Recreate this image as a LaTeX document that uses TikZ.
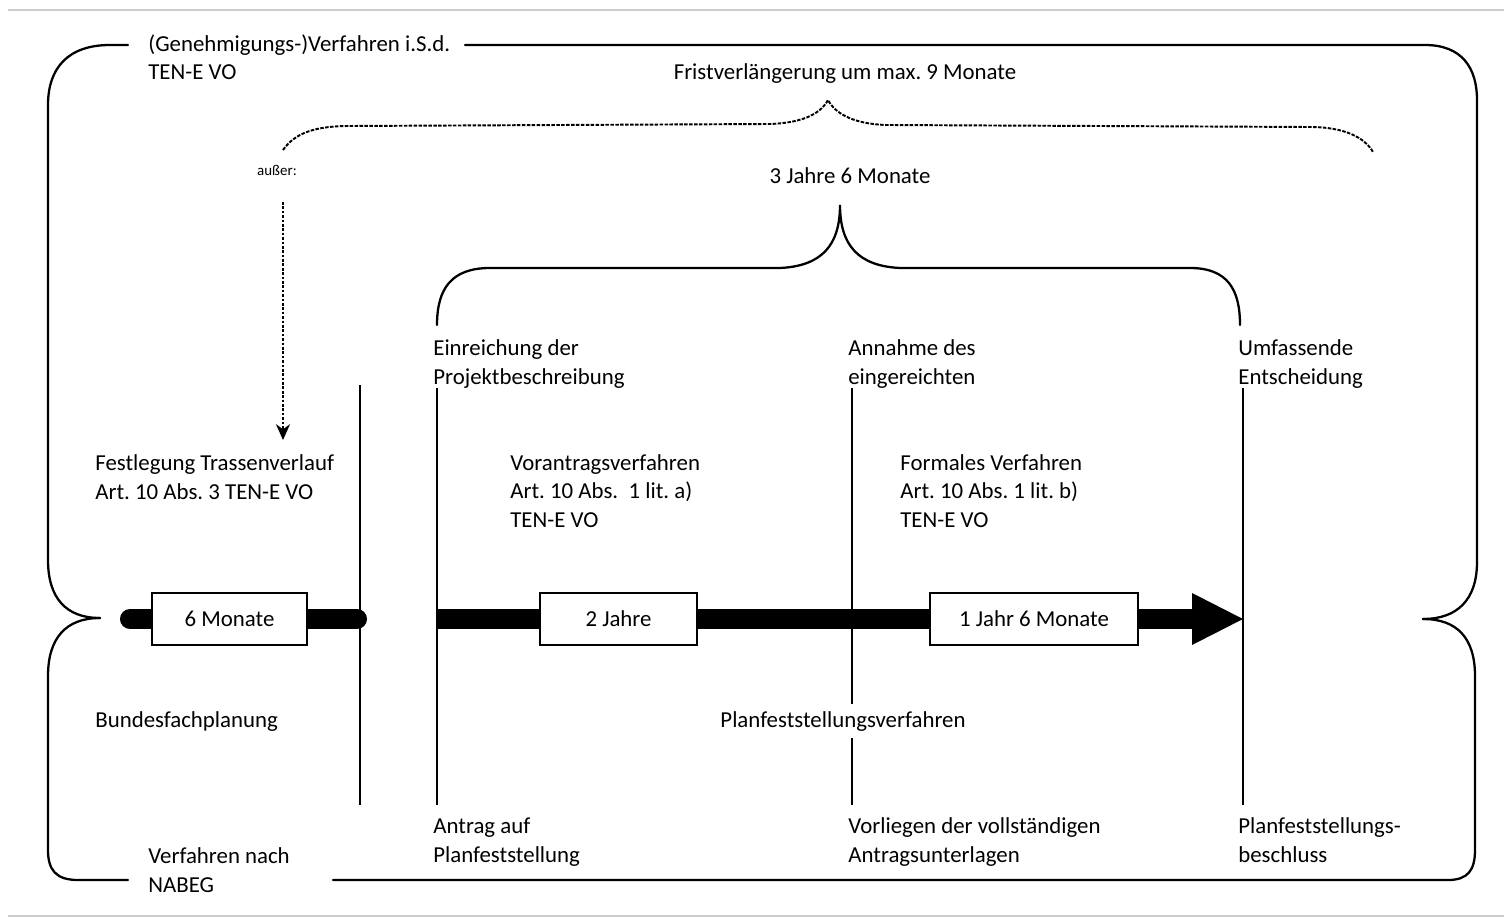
\documentclass[tikz,border=0pt]{standalone}
\usepackage{fontspec}
\setmainfont{Carlito}
\usetikzlibrary{arrows.meta}
\frenchspacing
\begin{document}
\begin{tikzpicture}[x=0.02cm,y=-0.02cm,
  txt/.style={anchor=base west,inner sep=0pt,align=left,font=\fontsize{13}{16.2}\selectfont},
  ctxt/.style={txt,anchor=base},
  bracel/.style={line width=1.3pt,line cap=round},
  dbrace/.style={line width=1.1pt,dash pattern=on 2pt off 0.8pt},
  vline/.style={line width=1pt},
  bar/.style={line width=11.4pt},
  dbox/.style={draw,line width=0.8pt,fill=white,minimum height=1.04cm,inner sep=0pt,font=\fontsize{13}{16}\selectfont},
  frame/.style={gray!40,line width=0.8pt}]
\useasboundingbox (0,0) rectangle (1504,922);
% frame lines
\coordinate (f1a) at (8,10); \coordinate (f1b) at (1504,10);
\coordinate (f2a) at (8,916); \coordinate (f2b) at (1504,916);
\draw[frame] (f1a) -- (f1b);
\draw[frame] (f2a) -- (f2b);

% texts (base = baseline of last line)
\node[txt] (gen) at (148,80) {(Genehmigungs-)Verfahren i.S.d.\\TEN-E VO};
\node[ctxt] (frist) at (845,80) {Fristverlängerung um max. 9 Monate};
\node[ctxt,font=\fontsize{8.5}{10}\selectfont] (ausser) at (277,176) {außer:};
\node[ctxt] (drei) at (850,184) {3 Jahre 6 Monate};
\node[txt] (einr) at (433,384) {Einreichung der\\Projektbeschreibung};
\node[txt] (annahme) at (848,384) {Annahme des\\eingereichten};
\node[txt] (umf) at (1238,384) {Umfassende\\Entscheidung};
\node[txt] (festl) at (95,499) {Festlegung Trassenverlauf\\Art. 10 Abs. 3 TEN-E VO};
\node[txt] (vorantrag) at (510,527) {Vorantragsverfahren\\Art. 10 Abs.\ \ 1 lit. a)\\TEN-E VO};
\node[txt] (formal) at (900,527) {Formales Verfahren\\Art. 10 Abs. 1 lit. b)\\TEN-E VO};
\node[txt] (bfp) at (95,727) {Bundesfachplanung};
\node[ctxt,fill=white,inner sep=4pt] (pfv) at (843,727) {Planfeststellungsverfahren};
\node[txt] (antrag) at (433,862) {Antrag auf\\Planfeststellung};
\node[txt] (vorl) at (848,862) {Vorliegen der vollständigen\\Antragsunterlagen};
\node[txt] (pfb) at (1238,862) {Planfeststellungs-\\beschluss};
\node[txt] (nabeg) at (148,892) {Verfahren nach\\NABEG};

% outer braces
\coordinate (lt) at (100,618); \coordinate (rt) at (1423,619);
\coordinate (g1) at (128,45); \coordinate (g2) at (465,45);
\coordinate (n1) at (128,880); \coordinate (n2) at (333,880);
\draw[bracel] (g1) -- (110,45) .. controls (68,45) and (48,68) .. (48,105) -- (48,560) .. controls (48,598) and (66,618) .. (lt);
\draw[bracel] (lt) .. controls (66,618) and (48,638) .. (48,676) -- (48,850) .. controls (48,870) and (56,880) .. (78,880) -- (n1);
\draw[bracel] (n2) -- (1448,880) .. controls (1468,880) and (1475,870) .. (1475,850) -- (1475,676) .. controls (1475,638) and (1457,619) .. (rt);
\draw[bracel] (g2) -- (1425,45) .. controls (1462,45) and (1477,68) .. (1477,100) -- (1477,562) .. controls (1477,600) and (1457,619) .. (rt);

% Fristverlaengerung brace
\draw[dbrace] (283,150) .. controls (295,133) and (315,126) .. (350,126) -- (770,124) .. controls (800,123) and (820,115) .. (828,100) .. controls (836,115) and (856,124) .. (886,125) -- (1310,127) .. controls (1345,127) and (1365,138) .. (1373,152);

% 3 Jahre 6 Monate brace
\draw[bracel] (437,325) .. controls (437,288) and (452,268) .. (490,268) -- (780,268) .. controls (822,266) and (840,245) .. (840,205) .. controls (840,245) and (858,266) .. (900,268) -- (1190,268) .. controls (1228,268) and (1240,290) .. (1240,325);

% dotted arrow
\coordinate (da1) at (283,202); \coordinate (da2) at (283,440);
\draw[line width=1.2pt,dash pattern=on 1.5pt off 1pt,-{Stealth[length=9pt,width=8pt]}] (da1) -- (da2);

% vertical lines
\coordinate (v1t) at (360,385); \coordinate (v1b) at (360,805);
\coordinate (v2t) at (437,388); \coordinate (v2b) at (437,805);
\coordinate (v3t) at (852,388); \coordinate (v3b) at (852,805);
\coordinate (v4t) at (1243,388); \coordinate (v4b) at (1243,805);
\draw[vline] (v1t) -- (v1b);
\draw[vline] (v2t) -- (v2b);
\draw[vline] (v3t) -- (v3t |- pfv.north);
\draw[vline] (v3t |- pfv.south) -- (v3b);
\draw[vline] (v4t) -- (v4b);

% timeline
\coordinate (b0) at (130,619); \coordinate (b1) at (357,619);
\draw[bar,line cap=round] (b0) -- (b1);
\coordinate (c0) at (437,619); \coordinate (c1) at (1194,619);
\draw[bar] (c0) -- (c1);
\coordinate (ah1) at (1192,593); \coordinate (tip) at (1243,619); \coordinate (ah2) at (1192,645);
\fill (ah1) -- (tip) -- (ah2) -- cycle;
\node[dbox,minimum width=3.1cm] (m6) at (229.5,619) {6 Monate};
\node[dbox,minimum width=3.14cm] (j2) at (618.5,619) {2 Jahre};
\node[dbox,minimum width=4.16cm] (j1) at (1034,619) {1 Jahr 6 Monate};
\end{tikzpicture}
\end{document}
